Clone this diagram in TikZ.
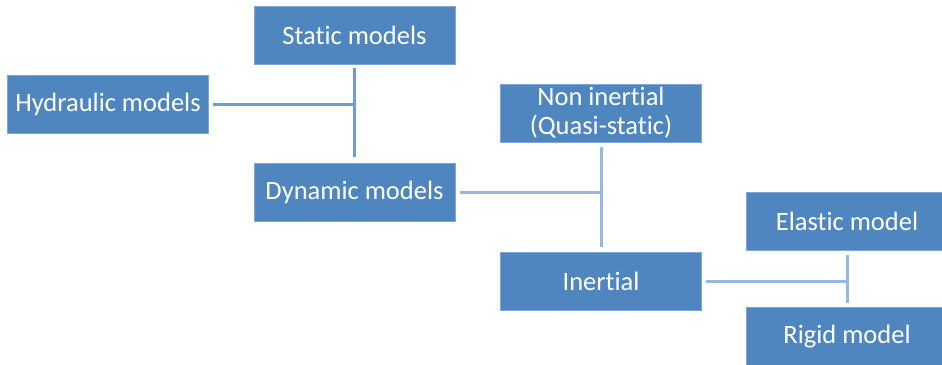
\documentclass[tikz,border=0pt]{standalone}
\usepackage{fontspec}
\setmainfont{Carlito}[Ligatures=NoCommon]
\definecolor{boxblue}{HTML}{4F86C0}
\definecolor{boxedge}{HTML}{7FA6D4}
\definecolor{linkdark}{HTML}{6B9DD8}
\definecolor{linklight}{HTML}{95B7E0}
\begin{document}
\begin{tikzpicture}[x=1pt,y=-1pt,
  model/.style={rectangle, fill=boxblue, draw=boxedge, line width=0.6pt,
    text=white, font=\fontsize{26.5}{29}\selectfont, align=center,
    minimum width=201pt, minimum height=58pt, inner sep=0pt},
  link/.style={line width=3pt, draw=#1}]
\useasboundingbox (0,0) rectangle (942,364);
\clip (0,0) rectangle (942,364);

\node[model] (static) at (354.5,35) {Static models};
\node[model] (hyd) at (108,104) {Hydraulic models};
\node[model] (dyn) at (354.5,192) {Dynamic models};
\node[model] (nonin) at (601,113) {Non inertial\\(Quasi-static)};
\node[model] (inert) at (601,281) {Inertial};
\node[model] (elastic) at (847,221.5) {Elastic model};
\node[model] (rigid) at (847,336.5) {Rigid model};

% static / dynamic split fed from the hydraulic models
\draw[link=linkdark] ([yshift=-4pt]static.south) -- ([yshift=6pt]dyn.north);
\draw[link=linkdark] ([xshift=4pt]hyd.east) -- (hyd.east -| static.south);

% dynamic models branch into non inertial / inertial
\draw[link=linklight] ([yshift=-5pt]nonin.south) -- ([yshift=5pt]inert.north);
\draw[link=linklight] ([xshift=5pt]dyn.east) -- (dyn.east -| nonin.south);

% inertial models branch into elastic / rigid
\draw[link=linklight] ([yshift=-4pt]elastic.south) -- ([yshift=4pt]rigid.north);
\draw[link=linklight] ([xshift=4pt]inert.east) -- (inert.east -| elastic.south);
\end{tikzpicture}
\end{document}
